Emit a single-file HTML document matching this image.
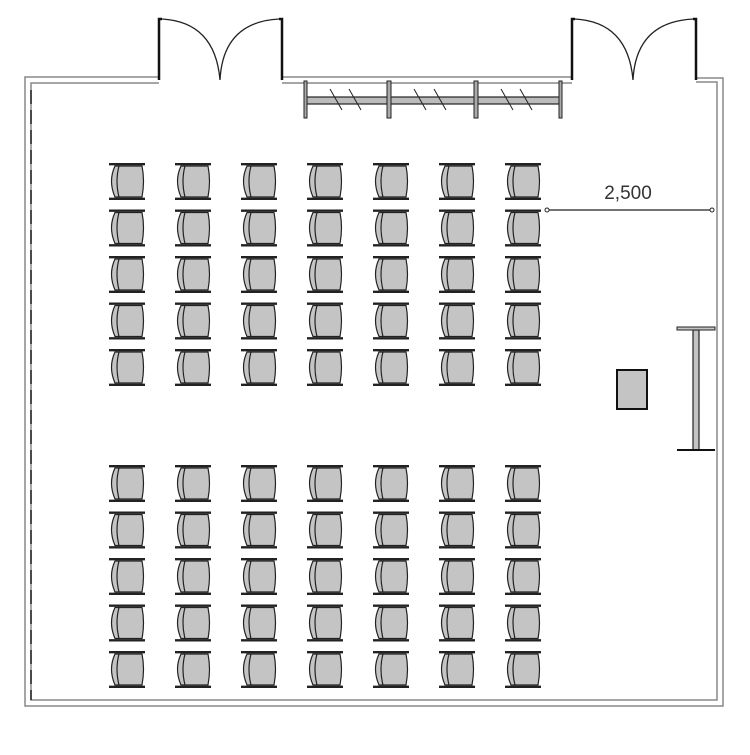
<!DOCTYPE html>
<html><head><style>body{margin:0;background:#fff}</style></head><body>
<svg width="750" height="750" xmlns="http://www.w3.org/2000/svg">
<defs>
<g id="c">
<path d="M8,3 Q1,18 8,34 L12,34 L12,3Z" fill="#c4c4c4" stroke="#222" stroke-width="1.2"/>
<path d="M12,3 L35,3 Q38,18 35,34 L12,34 Q8,18 12,3Z" fill="#c4c4c4" stroke="#222" stroke-width="1.2"/>
<line x1="2" y1="1.2" x2="38" y2="1.2" stroke="#222" stroke-width="2.4"/>
<line x1="2" y1="35.8" x2="38" y2="35.8" stroke="#222" stroke-width="2.4"/>
</g>
</defs>
<g fill="none" stroke="#888" stroke-width="1.5">
<polyline points="159,77 25,77 25,706 723,706 723,78 696,78"/>
<polyline points="159,83 31,83 31,700 717,700 717,82 696,82"/>
<line x1="282" y1="77" x2="572" y2="77"/>
<line x1="282" y1="83" x2="572" y2="83"/>
</g>
<line x1="31" y1="90" x2="31" y2="700" stroke="#222" stroke-width="1.5" stroke-dasharray="14,6"/>
<g stroke="#111" stroke-width="2.5" fill="none">
<polyline points="159,80 159,19 162,19"/>
<polyline points="282,80 282,19 279,19"/>
<polyline points="572,80 572,19 575,19"/>
<polyline points="696,80 696,19 693,19"/>
</g>
<g stroke="#222" stroke-width="1.3" fill="none">
<path d="M162,19 Q215,22 220,80 Q223,22 279,19"/>
<path d="M575,19 Q628,22 633,80 Q636,22 693,19"/>
</g>
<rect x="305" y="97" width="256" height="7" fill="#bbb" stroke="#222" stroke-width="1.2"/>
<g fill="#aaa" stroke="#222" stroke-width="1">
<rect x="304" y="81" width="3" height="37"/><rect x="387" y="81" width="4" height="37"/>
<rect x="474" y="81" width="4" height="37"/><rect x="559" y="81" width="3" height="37"/>
</g>
<g stroke="#222" stroke-width="1">
<path d="M330,89 L342,110 M349,89 L361,110 M414,89 L426,110 M434,89 L446,110 M501,89 L513,110 M520,89 L532,110"/>
</g>
<g id="block">
<g transform="translate(107,163)"><use href="#c"/><use href="#c" x="66"/><use href="#c" x="132"/><use href="#c" x="198"/><use href="#c" x="264"/><use href="#c" x="330"/><use href="#c" x="396"/></g>
<g transform="translate(107,209.5)"><use href="#c"/><use href="#c" x="66"/><use href="#c" x="132"/><use href="#c" x="198"/><use href="#c" x="264"/><use href="#c" x="330"/><use href="#c" x="396"/></g>
<g transform="translate(107,256)"><use href="#c"/><use href="#c" x="66"/><use href="#c" x="132"/><use href="#c" x="198"/><use href="#c" x="264"/><use href="#c" x="330"/><use href="#c" x="396"/></g>
<g transform="translate(107,302.5)"><use href="#c"/><use href="#c" x="66"/><use href="#c" x="132"/><use href="#c" x="198"/><use href="#c" x="264"/><use href="#c" x="330"/><use href="#c" x="396"/></g>
<g transform="translate(107,349)"><use href="#c"/><use href="#c" x="66"/><use href="#c" x="132"/><use href="#c" x="198"/><use href="#c" x="264"/><use href="#c" x="330"/><use href="#c" x="396"/></g>
</g>
<use href="#block" y="302"/>
<line x1="547" y1="210" x2="712" y2="210" stroke="#222" stroke-width="1.2"/>
<circle cx="547" cy="210" r="2" fill="#fff" stroke="#222"/>
<circle cx="712" cy="210" r="2" fill="#fff" stroke="#222"/>
<text x="628" y="199" font-family="Liberation Sans, sans-serif" font-size="19" text-anchor="middle" fill="#333">2,500</text>
<rect x="617" y="370" width="30" height="39" fill="#c4c4c4" stroke="#111" stroke-width="2"/>
<rect x="693" y="330" width="6" height="120" fill="#c4c4c4" stroke="#222" stroke-width="1.2"/>
<rect x="677" y="327" width="38" height="3" fill="#c4c4c4" stroke="#222" stroke-width="1"/>
<line x1="677" y1="450" x2="715" y2="450" stroke="#111" stroke-width="2"/>
</svg>
</body></html>
